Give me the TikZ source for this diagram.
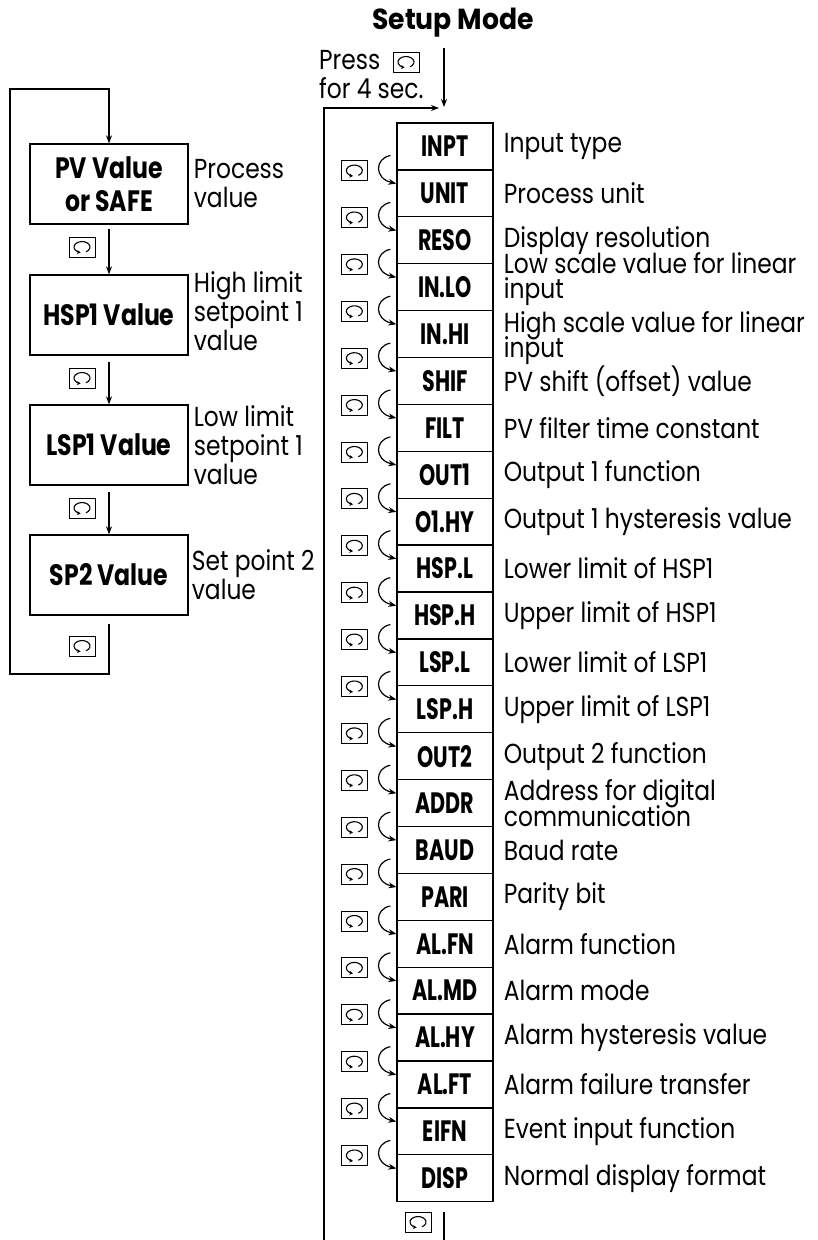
\documentclass[tikz,border=0pt]{standalone}
\usepackage{fontspec}
\setmainfont[FakeStretch=0.85]{Poppins}
\newfontfamily\valfont[FakeStretch=0.8]{Poppins}
\newfontfamily\parfont[FakeStretch=0.7]{Poppins}
\newfontfamily\titlefont[FakeStretch=0.92]{Poppins}
\usetikzlibrary{calc, arrows.meta, positioning}

\newcommand{\txtsize}{\fontsize{27.5}{29}\selectfont}
\newcommand{\boxsize}{\fontsize{29.5}{33}\selectfont}

\begin{document}
\begin{tikzpicture}[
    x=1pt, y=-1pt, % pixel grid, y runs downwards
    >={Stealth[length=8pt,width=6pt]}, % small filled arrow tips
    flow/.style={->, line width=1.2pt}, % arrows between displays
    wire/.style={-, line width=1.2pt}, % plain return lines
    valbox/.style={draw, line width=1.3pt, minimum width=158pt, minimum height=80pt,
      align=center, inner sep=2pt, font=\valfont\boxsize\bfseries}, % user mode displays
    parbox/.style={draw, line width=1.3pt, minimum width=96pt, minimum height=46.9pt,
      inner sep=0pt, font=\parfont\boxsize\bfseries}, % setup mode parameters
    desc/.style={anchor=west, align=left, inner sep=1pt, font=\txtsize}, % explanations
    title/.style={font=\titlefont\fontsize{29}{31}\selectfont\bfseries}, % mode heading
    keyicon/.style={draw, line width=0.8pt, minimum width=26pt, minimum height=20pt,
      inner sep=0pt,
      path picture={\draw[line width=1.1pt, -{Stealth[length=3.5pt,width=4pt]}]
        ([xshift=4pt,yshift=-4.8pt]path picture bounding box.center)
        arc[start angle=-60, end angle=260, x radius=8pt, y radius=5.5pt];}} % scroll key
  ]
  \useasboundingbox (0,0) rectangle (817,1240);

  % --- User mode (left column) ---
  \node[valbox] (pv) at (109,184) {PV Value\\or SAFE};
  \node[valbox] (hsp) at (109,315) {HSP1 Value};
  \node[valbox] (lsp) at (109,445) {LSP1 Value};
  \node[valbox] (sp2) at (109,575) {SP2 Value};

  \node[desc] (pvtxt) at ([xshift=4pt]pv.east) {Process\\value};
  \node[desc] (hsptxt) at ([xshift=4pt,yshift=4pt]hsp.east) {High limit\\setpoint 1\\value};
  \node[desc] (lsptxt) at ([xshift=4pt]lsp.east) {Low limit\\setpoint 1\\value};
  \node[desc] (sp2txt) at ([xshift=2pt]sp2.east) {Set point 2\\value};

  \draw[flow, shorten <=4pt] (pv) -- (hsp);
  \draw[flow, shorten <=6pt] (hsp) -- (lsp);
  \draw[flow, shorten <=6pt] (lsp) -- (sp2);
  \node[keyicon] (k1) at (82,247) {};
  \node[keyicon] (k2) at (82,378) {};
  \node[keyicon] (k3) at (82,508) {};
  \node[keyicon] (k4) at (82,646) {};

  % return loop of the user mode
  \coordinate (loopTL) at (10,89);
  \coordinate (loopBL) at (10,674);
  \draw[flow] ([yshift=-8pt]sp2.south) -- (sp2.south |- loopBL) -- (loopBL)
    -- (loopTL) -- (pv.north |- loopTL) -- (pv.north);

  % --- Setup mode (right column) ---
  \node[title] (setup) at (453,23) {Setup Mode};
  \node[desc] (press) at (318,75) {Press\\for 4 sec.};
  \node[keyicon] (presskey) at (406,62) {};

  \coordinate (entry) at (444,107);
  \coordinate (downstart) at (444,48);
  \coordinate (loopR) at (324,1240);
  \coordinate (loopRtop) at (324,108);
  \draw[flow] (downstart) -- (entry);
  \draw[flow] (loopR) -- (loopRtop) -- (439,108);

  \foreach \lab/\txt/\dy [count=\i] in {
      INPT/Input type/0,
      UNIT/Process unit/0,
      RESO/Display resolution/0,
      IN.LO/Low scale value for linear\\[-4pt]input/8,
      IN.HI/High scale value for linear\\[-4pt]input/-4,
      SHIF/PV shift (offset) value/0,
      FILT/PV filter time constant/0,
      OUT1/Output 1 function/0,
      O1.HY/Output 1 hysteresis value/0,
      HSP.L/Lower limit of HSP1/0,
      HSP.H/Upper limit of HSP1/0,
      LSP.L/Lower limit of LSP1/0,
      LSP.H/Upper limit of LSP1/0,
      OUT2/Output 2 function/0,
      ADDR/Address for digital\\[-3pt]communication/0,
      BAUD/Baud rate/0,
      PARI/Parity bit/0,
      AL.FN/Alarm function/0,
      AL.MD/Alarm mode/0,
      AL.HY/Alarm hysteresis value/0,
      AL.FT/Alarm failure transfer/0,
      EIFN/Event input function/0,
      DISP/Normal display format/0} {
    \node[parbox] (r\i) at (445, {123+46.9*(\i-0.5)}) {\lab};
    \node[desc] (d\i) at ([xshift=9pt,yshift=\dy pt]r\i.east) {\txt};
  }

  % scroll key between two parameters
  \foreach \i in {1,...,22} {
    \node[keyicon] (rk\i) at ($(r\i.south west)+(-42,0)$) {};
    \draw[flow] ($(r\i.south west)+(-6,-15)$) .. controls ($(r\i.south west)+(-22,-12)$)
      and ($(r\i.south west)+(-22,8)$) .. ($(r\i.south west)+(0,13)$);
  }

  % leave the setup mode
  \coordinate (exitR) at (444,1240);
  \draw[wire] ([yshift=-10pt]r23.south -| exitR) -- (exitR);
  \node[keyicon] (exitkey) at (418,1222) {};

\end{tikzpicture}
\end{document}
